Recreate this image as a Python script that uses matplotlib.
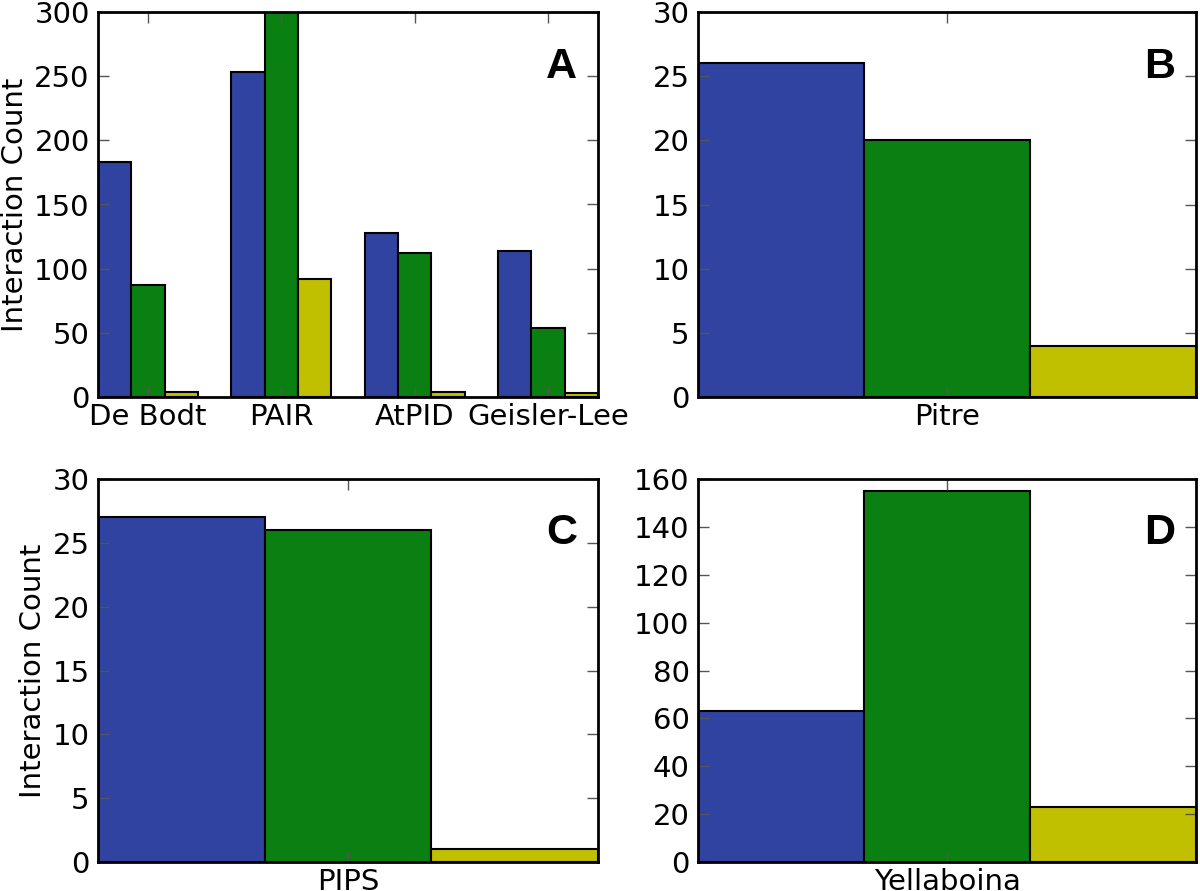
import matplotlib.pyplot as plt
import numpy as np

# interaction counts per method, three series each
blue_color = '#3043a0'
green_color = '#0a7f12'
yellow_color = '#c0c000'

a_names = ['De Bodt', 'PAIR', 'AtPID', 'Geisler-Lee']
a_blue = [183, 253, 128, 114]
a_green = [87, 300, 112, 54]
a_yellow = [4, 92, 4, 3]

b_names = ['Pitre']
b_blue = [26]
b_green = [20]
b_yellow = [4]

c_names = ['PIPS']
c_blue = [27]
c_green = [26]
c_yellow = [1]

d_names = ['Yellaboina']
d_blue = [63]
d_green = [155]
d_yellow = [23]

plt.rcParams['font.family'] = 'DejaVu Sans'
plt.rcParams['font.size'] = 21

fig = plt.figure(figsize=(12, 8.91), dpi=100)
W, H = 1200.0, 891.0


def make_ax(x0, x1, ytop, ybot):
    return fig.add_axes([x0 / W, (H - ybot) / H, (x1 - x0) / W, (ybot - ytop) / H])


def panel(ax, names, blue, green, yellow, ymax, yticks, letter, ylabel=False):
    w = 0.25
    x = np.arange(len(names))
    for k, (vals, col) in enumerate([(blue, blue_color), (green, green_color), (yellow, yellow_color)]):
        ax.bar(x + k * w, vals, w, align='edge', color=col, edgecolor='black', linewidth=1.5)
    ax.set_xlim(0, len(names) - 1 + 3 * w)
    ax.set_ylim(0, ymax)
    ax.set_yticks(yticks)
    ax.set_xticks(x + 1.5 * w)
    ax.set_xticklabels(names)
    ax.tick_params(direction='in', length=8, width=1, color='#555555',
                   top=True, right=True, labelsize=21)
    ax.tick_params(axis='y', pad=6)
    ax.tick_params(axis='x', pad=4)
    for s in ax.spines.values():
        s.set_linewidth(2)
    ax.text(0.958, 0.91, letter, transform=ax.transAxes, ha='right', va='top',
            fontsize=31, fontweight='bold', family='Liberation Sans')
    if ylabel:
        ax.set_ylabel('Interaction Count', fontsize=21, labelpad=4)


ax_a = make_ax(98, 598, 12, 397)
ax_b = make_ax(698, 1196, 12, 397)
ax_c = make_ax(98, 598, 479, 862)
ax_d = make_ax(698, 1196, 479, 862)

panel(ax_a, a_names, a_blue, a_green, a_yellow, 300, range(0, 301, 50), 'A', ylabel=True)
panel(ax_b, b_names, b_blue, b_green, b_yellow, 30, range(0, 31, 5), 'B')
panel(ax_c, c_names, c_blue, c_green, c_yellow, 30, range(0, 31, 5), 'C', ylabel=True)
panel(ax_d, d_names, d_blue, d_green, d_yellow, 160, range(0, 161, 20), 'D')

fig.savefig('out.png', dpi=100)
